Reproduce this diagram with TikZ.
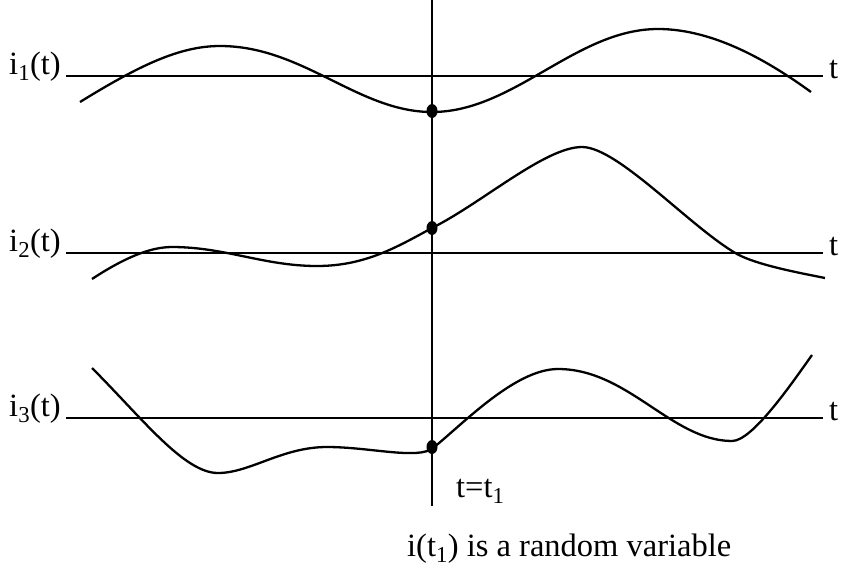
\documentclass[tikz,border=0pt]{standalone}
\usepackage{fontspec}
\setmainfont{Liberation Serif}
\usetikzlibrary{shapes.geometric}
\tikzset{
  axisline/.style={line width=2.3pt},
  wave/.style={line width=2.3pt},
  dotmark/.style={ellipse, fill=black, inner sep=0pt, minimum width=11pt, minimum height=14pt},
  lbl/.style={inner sep=0pt, font=\fontsize{32.5}{38}\selectfont}
}
\begin{document}
\begin{tikzpicture}[x=1pt,y=-1pt]
\useasboundingbox (0,0) rectangle (842,571);
% vertical line t = t1
\coordinate (vt) at (432,0);
\coordinate (vb) at (432,506);
\draw[axisline] (vt) -- (vb);
% axes
\foreach \n/\y in {1/76,2/253,3/418}{
  \coordinate (a\n l) at (66,\y);
  \coordinate (a\n r) at (823,\y);
  \draw[axisline] (a\n l) -- (a\n r);
  \node[lbl, anchor=base east] (il\n) at (61,\y-2) {i\textsubscript{\n}(t)};
  \node[lbl, anchor=base west] (tl\n) at (829,\y+2) {t};
}
% curve 1
\draw[wave] (80,102) .. controls (140,65) and (180,46) .. (220,46)
  .. controls (303,46) and (358,112) .. (432,112)
  .. controls (514,112) and (576,29) .. (658,29)
  .. controls (715,29) and (771,63) .. (811,92);
% curve 2
\draw[wave] (92,279) .. controls (124,258) and (150,247) .. (172,247)
  .. controls (225,247) and (264,266) .. (317,266)
  .. controls (365,266) and (397,247) .. (432,228)
  .. controls (482,203) and (545,147) .. (582,147)
  .. controls (618,147) and (690,227) .. (737,254)
  .. controls (757,265) and (800,273) .. (825,278);
% curve 3
\draw[wave] (92,368) .. controls (142,418) and (184,473) .. (218,473)
  .. controls (250,473) and (282,447) .. (327,447)
  .. controls (370,447) and (418,460) .. (433,448)
  .. controls (463,424) and (515,369) .. (558,369)
  .. controls (628,369) and (672,441) .. (732,441)
  .. controls (752,441) and (790,386) .. (812,355);
% dots
\node[dotmark] (d1) at (432,111) {};
\node[dotmark] (d2) at (432,228) {};
\node[dotmark] (d3) at (432,447) {};
% labels
\node[lbl, anchor=base west] (tt) at (456,497) {t=t\textsubscript{1}};
\node[lbl, anchor=base west] (rv) at (407,556) {i(t\textsubscript{1}) is a random variable};
\end{tikzpicture}
\end{document}
